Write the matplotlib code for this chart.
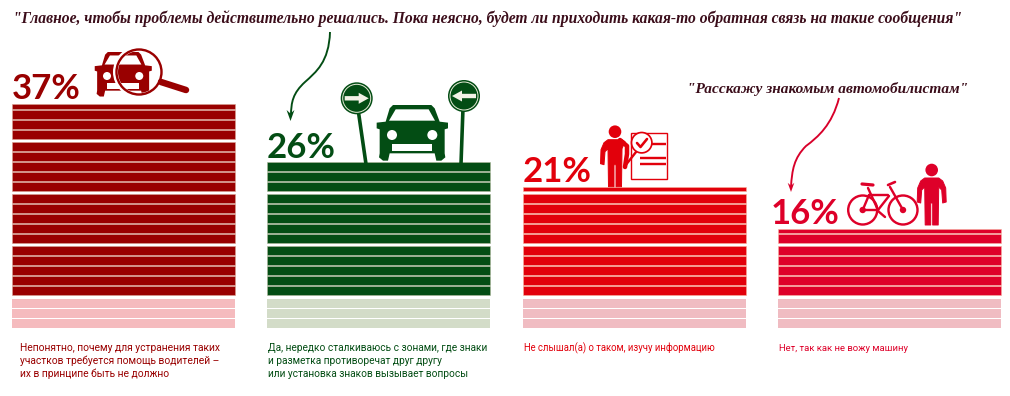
import numpy as np
import matplotlib
matplotlib.use("Agg")
import matplotlib.pyplot as plt
from matplotlib.patches import Circle, Polygon, PathPatch, Rectangle
from matplotlib.path import Path

# ---- data ----
percents = [37, 26, 21, 16]
dark_strips = [18.55, 13, 10.5, 6.5]   # solid strips, top strip may be partial
pale_strips = [3, 3, 3, 3]
captions = [
    "Непонятно, почему для устранения таких\nучастков требуется помощь водителей –\nих в принципе быть не должно",
    "Да, нередко сталкиваюсь с зонами, где знаки\nи разметка противоречат друг другу\nили установка знаков вызывает вопросы",
    "Не слышал(а) о таком, изучу информацию",
    "Нет, так как не вожу машину",
]
quote_top = "\"Главное, чтобы проблемы действительно решались. Пока неясно, будет ли приходить какая-то обратная связь на такие сообщения\""
quote_right = "\"Расскажу знакомым автомобилистам\""

# ---- style ----
dark_colors = ["#990000", "#034d14", "#e2000b", "#de0029"]
pale_colors = ["#f5bbbe", "#d3dcc8", "#f0bcc2", "#f0bcc2"]
edge_colors = ["#d9a090", "#b0b89a", "#f8b09a", "#f8b0a0"]
bar_left = [12, 267, 523, 778]
pct_xy = [(12, 99), (267, 158), (523, 182), (771, 224)]
cap_sizes = [7.4, 7.3, 6.85, 6.8]
cap_y = 351
BAR_W = 223
BASE = 295
P = 10
GROUP_GAP = 2
H = 8.8
PX = 0.72

fig = plt.figure(figsize=(10.1, 3.96), dpi=100, facecolor="white")
ax = fig.add_axes([0, 0, 1, 1])
ax.set_xlim(0, 1010)
ax.set_ylim(396, 0)
ax.axis("off")


def strip_bottom(i):
    return BASE - i * P - (i // 5) * GROUP_GAP


# strips
for k, (n, m) in enumerate(zip(dark_strips, pale_strips)):
    full = int(np.floor(n))
    frac = n - full
    for i in range(full):
        b = strip_bottom(i)
        ax.bar(bar_left[k], H, bottom=b - H, width=BAR_W, align="edge",
               color=dark_colors[k], edgecolor=edge_colors[k], linewidth=0.4)
    if frac > 0:
        b = strip_bottom(full)
        ax.bar(bar_left[k], H * frac, bottom=b - H * frac, width=BAR_W, align="edge",
               color=dark_colors[k], edgecolor=edge_colors[k], linewidth=0.4)
    for j in range(m):
        top = 299 + j * P
        ax.bar(bar_left[k], 9, bottom=top, width=BAR_W, align="edge",
               color=pale_colors[k], linewidth=0)
    ax.text(pct_xy[k][0], pct_xy[k][1], f"{percents[k]}%", family="Lato",
            fontweight="bold", fontsize=25, color=dark_colors[k], va="baseline", ha="left")
    cx = bar_left[k] + (8 if k == 0 else 1)
    for ln, line_txt in enumerate(captions[k].split("\n")):
        ax.text(cx, cap_y + ln * 13, line_txt, family="Roboto",
                fontsize=cap_sizes[k], color=dark_colors[k], va="baseline", ha="left")

# quotes
ax.text(13, 23, quote_top, family="Liberation Serif", style="italic", fontsize=11.24,
        color="#3b0d1a", va="baseline", ha="left", fontweight="bold")
ax.text(687, 93, quote_right, family="Liberation Serif", style="italic", fontsize=11.05,
        color="#3b0d1a", va="baseline", ha="left", fontweight="bold")


def car(cx, top, s, color, z=3):
    def X(v): return cx + (v - 457) / 3 * s
    def Y(v): return top + (v - 105) / 3 * s
    def poly(pts, c):
        return Polygon([(X(a), Y(b)) for a, b in pts], closed=True, fc=c, ec="none", zorder=z)
    items = [
        poly([(400, 105), (515, 105), (525, 115), (540, 155), (565, 158), (565, 175), (555, 178),
              (555, 250), (557, 262), (545, 272), (530, 272), (525, 250), (390, 250), (385, 272),
              (370, 272), (358, 262), (360, 250), (360, 178), (351, 175), (351, 158), (378, 155),
              (390, 115)], color),
        poly([(408, 118), (507, 118), (526, 152), (388, 152)], "white"),
        Circle((X(397), Y(195)), 15 / 3 * s, fc="white", ec="none", zorder=z),
        Circle((X(518), Y(195)), 15 / 3 * s, fc="white", ec="none", zorder=z),
        poly([(398, 222), (518, 222), (518, 242), (398, 242)], "white"),
    ]
    for it in items:
        ax.add_patch(it)


def person(cx, head_y, color, right_arm=True, z=3):
    ax.add_patch(Circle((cx, head_y), 6.3, fc=color, ec="none", zorder=z))
    rel = [(-7, 8), (7, 8), (11, 11), (14, 18), (14.5, 32), (11, 33), (10, 20), (7, 17),
           (6.5, 55), (1, 55), (1, 33), (-1, 33), (-1, 55), (-6.5, 55), (-7, 17), (-10, 20),
           (-11, 33), (-14.5, 32), (-14, 18), (-11, 11)]
    if not right_arm:
        rel = [(-7, 8), (7, 8), (10, 10), (7, 17), (6.5, 55), (1, 55), (1, 33), (-1, 33), (-1, 55),
               (-6.5, 55), (-7, 17), (-10, 20), (-11, 33), (-14.5, 32), (-14, 18), (-11, 11)]
    ax.add_patch(Polygon([(cx + a, head_y + b) for a, b in rel], closed=True, fc=color,
                         ec=color, lw=0.7, joinstyle="round", zorder=z))


def line(pts, color, lw, z=3, cap="round"):
    xs, ys = zip(*pts)
    ax.plot(xs, ys, color=color, lw=lw * PX, solid_capstyle=cap, zorder=z)


def curve_arrow(verts, color, tip, wing=5.5):
    codes = [Path.MOVETO] + [Path.CURVE4] * (len(verts) - 1)
    ax.add_patch(PathPatch(Path(verts, codes), fc="none", ec=color, lw=1.9 * PX, zorder=3))
    tx, ty = tip
    ax.add_patch(Polygon([(tx, ty), (tx - wing / 1.4, ty - wing * 2), (tx, ty - wing * 1.35),
                          (tx + wing / 1.4, ty - wing * 2)], closed=True, fc=color, ec="none", zorder=3))


# --- icon: car under magnifier
c1 = dark_colors[0]
car(123, 52, 0.8, c1)
ax.add_patch(Circle((139, 72), 23.5, fc="none", ec="white", lw=5 * PX, zorder=4))
ax.add_patch(Circle((139, 72), 22.5, fc="none", ec=c1, lw=2.4 * PX, zorder=6))
line([(161, 82), (186, 90)], c1, 6.5, z=6)

# --- icon: car with signs
c2 = dark_colors[1]
car(412, 105, 1.0, c2)
for (sx, sy, foot, d) in [(356.7, 98.3, (366, 164), 1), (464, 96, (461, 164), -1)]:
    line([(sx + 1.5 * d if d > 0 else sx - 1, sy + 12), foot], c2, 3.6, cap="butt")
    ax.add_patch(Circle((sx, sy), 16, fc=c2, ec="none", zorder=4))
    ax.add_patch(Circle((sx, sy), 14, fc="none", ec="#e8ecd8", lw=0.7, zorder=5))
    ax.add_patch(Polygon([(sx - 12 * d, sy - 2.2), (sx + 2 * d, sy - 2.2), (sx + 2 * d, sy - 5.5),
                          (sx + 12 * d, sy), (sx + 2 * d, sy + 5.5), (sx + 2 * d, sy + 2.2),
                          (sx - 12 * d, sy + 2.2)], closed=True, fc="#f2f2e6", ec="none", zorder=5))

# --- icon: person with checklist
c3 = dark_colors[2]
person(615, 131.7, c3, right_arm=False)
line([(620, 140), (627, 146), (627, 154), (625, 167)], c3, 4.5)
ax.add_patch(Rectangle((630.5, 132.5), 36, 46, fc="white", ec=c3, lw=1.4 * PX, zorder=2))
for yy, x0 in [(144, 650), (157.5, 640), (163.5, 640)]:
    line([(x0, yy), (666, yy)], c3, 2.4, z=3, cap="butt")
line([(625, 166), (636, 152)], c3, 2.4, z=4)
ax.add_patch(Circle((641.7, 142.7), 10.2, fc="white", ec=c3, lw=1.7 * PX, zorder=5))
line([(637, 143), (640.5, 147), (647, 139)], c3, 2.6, z=6)

# --- icon: bicycle and person
c4 = dark_colors[3]
person(931.7, 170, c4)
for wx in (862.7, 903):
    ax.add_patch(Circle((wx, 210), 14.5, fc="none", ec=c4, lw=2.4 * PX, zorder=3))
    ax.add_patch(Circle((wx, 210), 3.2, fc=c4, ec="none", zorder=3))
for seg in [
    [(868, 188), (878, 210)], [(890, 187), (903, 210)], [(869, 195), (888, 195)],
    [(889, 196), (878, 210)], [(878, 210), (862.7, 210)], [(869, 195), (862.7, 210)],
    [(878, 211), (885, 217)],
]:
    line(seg, c4, 2.4)
line([(862, 184), (873, 185)], c4, 3.2)
line([(888, 185), (895, 182)], c4, 2.6)

# --- arrows
curve_arrow([(330, 32), (329, 62), (316, 72), (305, 82), (293, 93), (291, 102), (291, 116)],
            c2, (290.5, 121))
curve_arrow([(839, 98), (832, 125), (818, 137), (806, 146), (794, 158), (792, 170), (791, 187)],
            "#d8002a", (791, 192), wing=4.6)

fig.savefig("out.png", dpi=100, facecolor="white")
